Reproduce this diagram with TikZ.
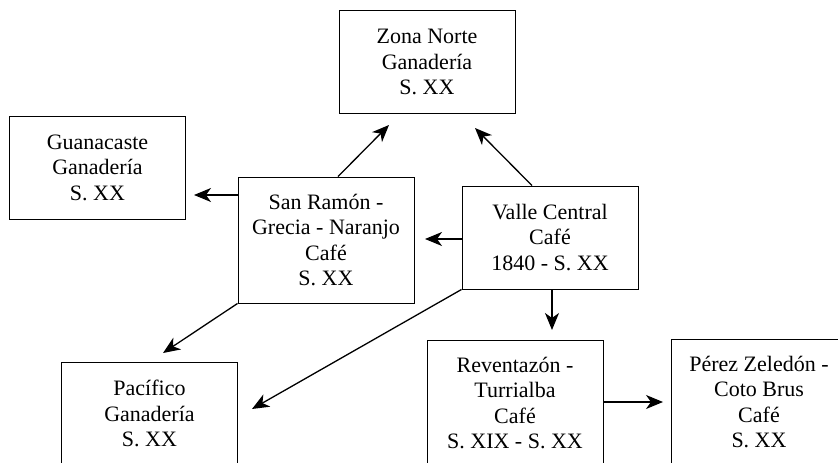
\documentclass[tikz,border=0pt]{standalone}
\usepackage{fontspec}
\setmainfont{Liberation Serif}
\newfontfamily\boxfont{Liberation Serif}
\usetikzlibrary{arrows.meta}
\begin{document}
\begin{tikzpicture}[x=1pt,y=-1pt,
  box/.style={draw,line width=0.9pt,align=center,inner sep=0pt,minimum width=176pt,
    font=\boxfont\fontsize{22pt}{25.5pt}\selectfont},
  b3/.style={box,minimum height=103pt},
  b4/.style={box,minimum height=126pt},
  conn/.style={line width=1.3pt,-{Stealth[length=17pt,width=14pt,inset=5pt]}}]
\useasboundingbox (0,0) rectangle (838,463);
\clip (0,0) rectangle (838,463);
\node[b3] (zn) at (427,62.2) {Zona Norte\\Ganadería\\S. XX};
\node[b3] (gu) at (97.5,167.5) {Guanacaste\\Ganadería\\S. XX};
\node[b4] (sr) at (326,240) {San Ramón -\\Grecia - Naranjo\\Café\\S. XX};
\node[b3] (vc) at (550,237.5) {Valle Central\\Café\\1840 - S. XX};
\node[b3] (pa) at (149.5,413.5) {Pacífico\\Ganadería\\S. XX};
\node[b4] (rv) at (515,403) {Reventazón -\\Turrialba\\Café\\S. XIX - S. XX};
\node[b4] (pz) at (759,402) {Pérez Zeledón -\\Coto Brus\\Café\\S. XX};
\coordinate (t1) at (389,125);
\coordinate (t2) at (475,128);
\coordinate (t3) at (194,195);
\coordinate (t4) at (425,239);
\coordinate (t5) at (163,353);
\coordinate (t6) at (252,409);
\coordinate (t7) at (552,330);
\coordinate (t8) at (663,402);
\draw[conn] ([xshift=12pt]sr.north) -- (t1);
\draw[conn] ([xshift=-18pt]vc.north) -- (t2);
\draw[conn] ([yshift=45pt]sr.west) -- (t3);
\draw[conn] ([yshift=-1.5pt]vc.west) -- (t4);
\draw[conn] (sr.south west) -- (t5);
\draw[conn] (vc.south west) -- (t6);
\draw[conn] ([xshift=2pt]vc.south) -- (t7);
\draw[conn] ([yshift=1pt]rv.east) -- (t8);
\end{tikzpicture}
\end{document}
